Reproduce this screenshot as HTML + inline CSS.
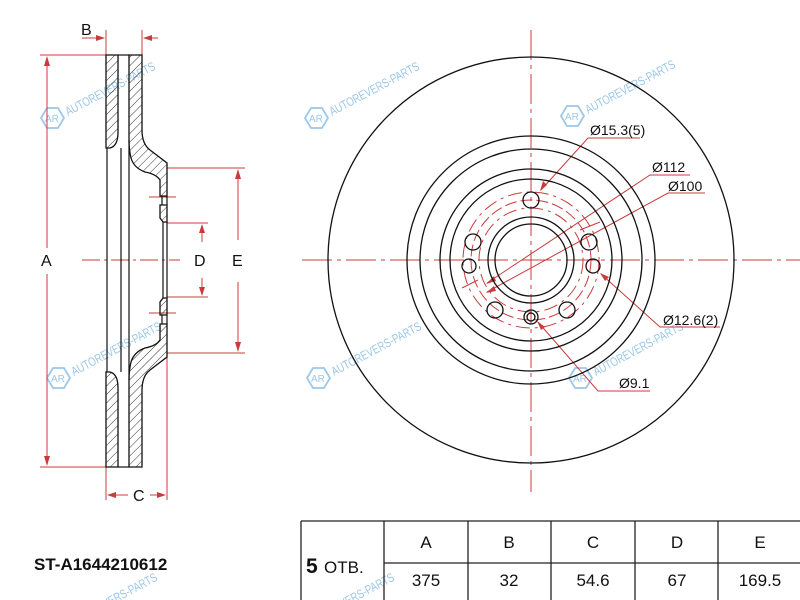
<!DOCTYPE html>
<html><head><meta charset="utf-8"><style>
html,body{margin:0;padding:0;background:#fff;width:800px;height:600px;overflow:hidden;}
svg{display:block;overflow:hidden;}
text{font-family:"Liberation Sans",Arial,sans-serif;}
</style></head><body>
<svg width="800" height="600" viewBox="0 0 800 600" xmlns="http://www.w3.org/2000/svg">
<defs>
<pattern id="h" patternUnits="userSpaceOnUse" width="6" height="6" patternTransform="rotate(45)">
<line x1="0" y1="0" x2="0" y2="6" stroke="#222" stroke-width="0.9"/>
</pattern>
<clipPath id="c"><rect x="0" y="0" width="800" height="600"/></clipPath>
<g id="wm" fill="none" stroke="#9cc8ea" stroke-width="1.8">
<polygon points="-11,0 -5,-10 6,-10 12,0 6,10 -5,10"/>
<text x="-7" y="4" font-size="10" fill="#9cc8ea" stroke="none">AR</text>
<text x="16" y="-2" font-size="12.5" fill="#9cc8ea" stroke="none" transform="rotate(-28 16 -2)" textLength="100" lengthAdjust="spacingAndGlyphs">AUTOREVERS-PARTS</text>
</g>
</defs>
<g clip-path="url(#c)">
<use href="#wm" x="52" y="118"/>
<use href="#wm" x="316" y="118"/>
<use href="#wm" x="572" y="116"/>
<use href="#wm" x="58" y="378"/>
<use href="#wm" x="318" y="378"/>
<use href="#wm" x="580" y="378"/>
<text x="70" y="627" font-size="12.5" fill="#9cc8ea" transform="rotate(-28 70 627)" textLength="100" lengthAdjust="spacingAndGlyphs">AUTOREVERS-PARTS</text>
<text x="307" y="627" font-size="12.5" fill="#9cc8ea" transform="rotate(-28 307 627)" textLength="100" lengthAdjust="spacingAndGlyphs">AUTOREVERS-PARTS</text>

<!-- ===== Cross section ===== -->
<g stroke="#c83c3c" stroke-width="1" fill="none">
<line x1="40" y1="55" x2="106" y2="55"/><line x1="40" y1="467" x2="106" y2="467"/>
<line x1="47" y1="58" x2="47" y2="248"/><line x1="47" y1="274" x2="47" y2="464"/>
<line x1="106" y1="30" x2="106" y2="55"/><line x1="142" y1="30" x2="142" y2="55"/>
<line x1="82" y1="38" x2="104" y2="38"/><line x1="144" y1="38" x2="158" y2="38"/>
<line x1="106" y1="467" x2="106" y2="500"/><line x1="167" y1="353" x2="167" y2="500"/>
<line x1="109" y1="495" x2="128" y2="495"/><line x1="150" y1="495" x2="164" y2="495"/>
<line x1="167" y1="168" x2="245" y2="168"/><line x1="167" y1="353" x2="245" y2="353"/>
<line x1="238" y1="171" x2="238" y2="240"/><line x1="238" y1="282" x2="238" y2="350"/>
<line x1="167" y1="223" x2="208" y2="223"/><line x1="167" y1="297" x2="208" y2="297"/>
<line x1="202" y1="226" x2="202" y2="242"/><line x1="202" y1="278" x2="202" y2="294"/>
<line x1="82" y1="260" x2="180" y2="260" stroke-dasharray="18,4,3,4"/>
<line x1="149" y1="197" x2="176" y2="197"/><line x1="149" y1="313" x2="176" y2="313"/>
</g>
<g fill="#c83c3c">
<polygon points="47,56 44,66 50,66"/><polygon points="47,466 44,456 50,456"/>
<polygon points="105,38 96,35 96,41"/><polygon points="143,38 152,35 152,41"/>
<polygon points="107,495 116,492 116,498"/><polygon points="166,495 157,492 157,498"/>
<polygon points="238,169 235,179 241,179"/><polygon points="238,352 235,342 241,342"/>
<polygon points="202,224 199,233 205,233"/><polygon points="202,296 199,287 205,287"/>
</g>
<g font-size="16" fill="#111">
<text x="41" y="266">A</text><text x="81" y="35">B</text><text x="133" y="501">C</text>
<text x="194" y="266">D</text><text x="232" y="266">E</text>
</g>

<g stroke="#111" stroke-width="1.3" fill="url(#h)">
<path d="M106,55 L118,55 L118,132 Q118,146 110,148 L106,148 Z"/>
<path d="M106,467 L118,467 L118,388 Q118,374 110,372 L106,372 Z"/>
<path d="M129,55 L142,55 L142,130 Q142,144 150,150 L167,163 L167,196 L160,196 L160,180 Q156,174 145,172 Q134,168 131,158 Q129,150 129,140 Z"/>
<path d="M129,467 L142,467 L142,390 Q142,376 150,370 L167,357 L167,324 L160,324 L160,340 Q156,346 145,348 Q134,352 131,362 Q129,370 129,380 Z"/>
<path d="M160,205 L167,205 L167,222 L163,222 L160,218 Z"/>
<path d="M160,315 L167,315 L167,298 L163,298 L160,302 Z"/>
</g>
<g stroke="#111" stroke-width="1.2" fill="none">
<line x1="107" y1="148" x2="107" y2="372"/>
<line x1="121" y1="148" x2="121" y2="372"/>
<line x1="129" y1="140" x2="129" y2="380"/>
<line x1="118" y1="55" x2="129" y2="55"/><line x1="118" y1="467" x2="129" y2="467"/>
<line x1="163" y1="222" x2="163" y2="298"/>
<line x1="167" y1="222" x2="167" y2="298"/>
<line x1="162" y1="196" x2="162" y2="205"/><line x1="162" y1="315" x2="162" y2="324"/>
<line x1="167" y1="196" x2="167" y2="205"/><line x1="167" y1="315" x2="167" y2="324"/>
</g>

<!-- ===== Front view ===== -->
<g stroke="#c83c3c" stroke-width="1" fill="none">
<line x1="531" y1="30" x2="531" y2="492" stroke-dasharray="30,5,4,5"/>
<line x1="302" y1="260" x2="800" y2="260" stroke-dasharray="30,5,4,5"/>
<circle cx="531" cy="260" r="60" stroke-dasharray="12,4"/>
<circle cx="531" cy="260" r="52" stroke-dasharray="14,5,3,5"/>
<circle cx="531" cy="260" r="68" stroke-dasharray="14,5,3,5"/>
<polyline points="640,138 588,138 541,190"/>
<polyline points="690,175 650,175 487,283"/>
<polyline points="705,193 668,193 487,292"/>
<polyline points="720,327 660,327 601,274"/>
<polyline points="650,391 598,391 538,322"/>
<line x1="580" y1="230" x2="600" y2="222"/>
<line x1="462" y1="288" x2="478" y2="280"/>
</g>
<g fill="#c83c3c">
<polygon points="540,191 543,181 547,185"/>
<polygon points="486,284 494,276 496,281"/>
<polygon points="486,293 494,286 496,291"/>
<polygon points="600,273 609,277 605,281"/>
<polygon points="537,321 541,330 545,327"/>
</g>
<g stroke="#111" stroke-width="1.3" fill="none">
<circle cx="531" cy="260" r="203"/>
<circle cx="531" cy="260" r="124"/>
<circle cx="531" cy="260" r="111"/>
<circle cx="531" cy="260" r="91"/>
<circle cx="531" cy="260" r="81"/>
<circle cx="531" cy="260" r="43"/>
<circle cx="531" cy="260" r="36"/>
<circle cx="531" cy="200" r="8"/>
<circle cx="589" cy="242" r="8"/>
<circle cx="473" cy="242" r="8"/>
<circle cx="495" cy="310" r="8"/>
<circle cx="567" cy="310" r="8"/>
<circle cx="469" cy="266" r="7"/>
<circle cx="593" cy="266" r="7"/>
<circle cx="531" cy="317" r="7"/>
<circle cx="531" cy="317" r="4"/>
</g>
<g font-size="14" fill="#111">
<text x="590" y="135">Ø15.3(5)</text>
<text x="652" y="172">Ø112</text>
<text x="668" y="191">Ø100</text>
<text x="663" y="325">Ø12.6(2)</text>
<text x="619" y="388">Ø9.1</text>
</g>

<!-- ===== Table ===== -->
<g stroke="#222" stroke-width="1.3" fill="none">
<line x1="301" y1="521" x2="800" y2="521"/>
<line x1="301" y1="521" x2="301" y2="600"/>
<line x1="384" y1="521" x2="384" y2="600"/>
<line x1="468" y1="521" x2="468" y2="600"/>
<line x1="551" y1="521" x2="551" y2="600"/>
<line x1="635" y1="521" x2="635" y2="600"/>
<line x1="718" y1="521" x2="718" y2="600"/>
<line x1="384" y1="563" x2="800" y2="563"/>
</g>
<g font-size="17" fill="#111" text-anchor="middle">
<text x="426" y="548">A</text><text x="509" y="548">B</text><text x="593" y="548">C</text><text x="677" y="548">D</text><text x="760" y="548">E</text>
<text x="426" y="586">375</text><text x="509" y="586">32</text><text x="593" y="586">54.6</text><text x="677" y="586">67</text><text x="760" y="586">169.5</text>
</g>
<text x="306" y="573" font-size="21" font-weight="bold" fill="#111">5</text>
<text x="324" y="573" font-size="17" fill="#111">ОТВ.</text>
<text x="34" y="570" font-size="17" font-weight="bold" fill="#111">ST-A1644210612</text>
</g>
</svg>
</body></html>
